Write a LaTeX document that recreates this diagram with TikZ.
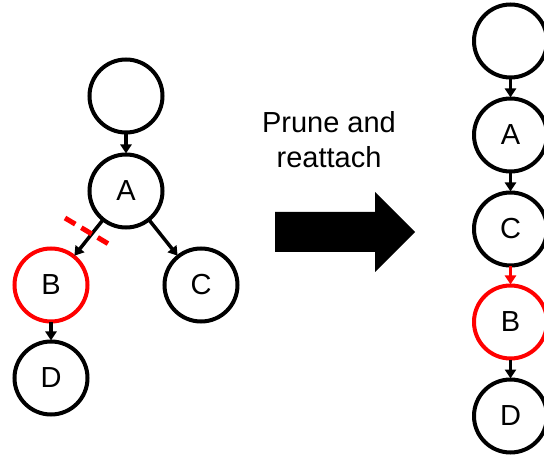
\documentclass[tikz,border=0pt]{standalone}
\usepackage{fontspec}
\setmainfont{Liberation Sans}
\usetikzlibrary{arrows.meta}

\begin{document}
\begin{tikzpicture}[x=1pt, y=-1pt,
  >={Triangle[length=9pt, width=11pt]},
  vert/.style={circle, draw, line width=4pt, minimum size=73pt, inner sep=0pt, font=\fontsize{29}{34}\selectfont},
  cut/.style={draw=red, text=black, line width=4pt},
  edge/.style={->, line width=3.5pt, shorten <=-1pt, shorten >=-1pt}]
\useasboundingbox (0,0) rectangle (544,457);

% Arvore original
\node[vert] (r1) at (126,96) {};
\node[vert] (a1) at (126,191) {A};
\node[vert, cut] (b1) at (51,285) {B};
\node[vert] (c1) at (201,285) {C};
\node[vert] (d1) at (51,378) {D};
\draw[edge] (r1) -- (a1);
\draw[edge] (a1) -- (b1);
\draw[edge] (a1) -- (c1);
\draw[edge] (b1) -- (d1);
% Corte da aresta A-B
\draw[red, line width=5pt, dash pattern=on 12pt off 7pt] (65,218) -- (112,246);

% Operacao
\node[align=center, font=\fontsize{29}{35}\selectfont] (op) at (329,140) {Prune and\\reattach};
\fill (275,212) -- (375,212) -- (375,192) -- (415,232) -- (375,272) -- (375,252) -- (275,252) -- cycle;

% Arvore resultante
\begin{scope}[xshift=510.5pt]
\node[vert] (r2) at (0,41) {};
\node[vert] (a2) at (0,135) {A};
\node[vert] (c2) at (0,229) {C};
\node[vert, cut] (b2) at (0,322) {B};
\node[vert] (d2) at (0,416) {D};
\draw[edge] (r2) -- (a2);
\draw[edge] (a2) -- (c2);
\draw[edge, red] (c2) -- (b2);
\draw[edge] (b2) -- (d2);
\end{scope}
\end{tikzpicture}
\end{document}
